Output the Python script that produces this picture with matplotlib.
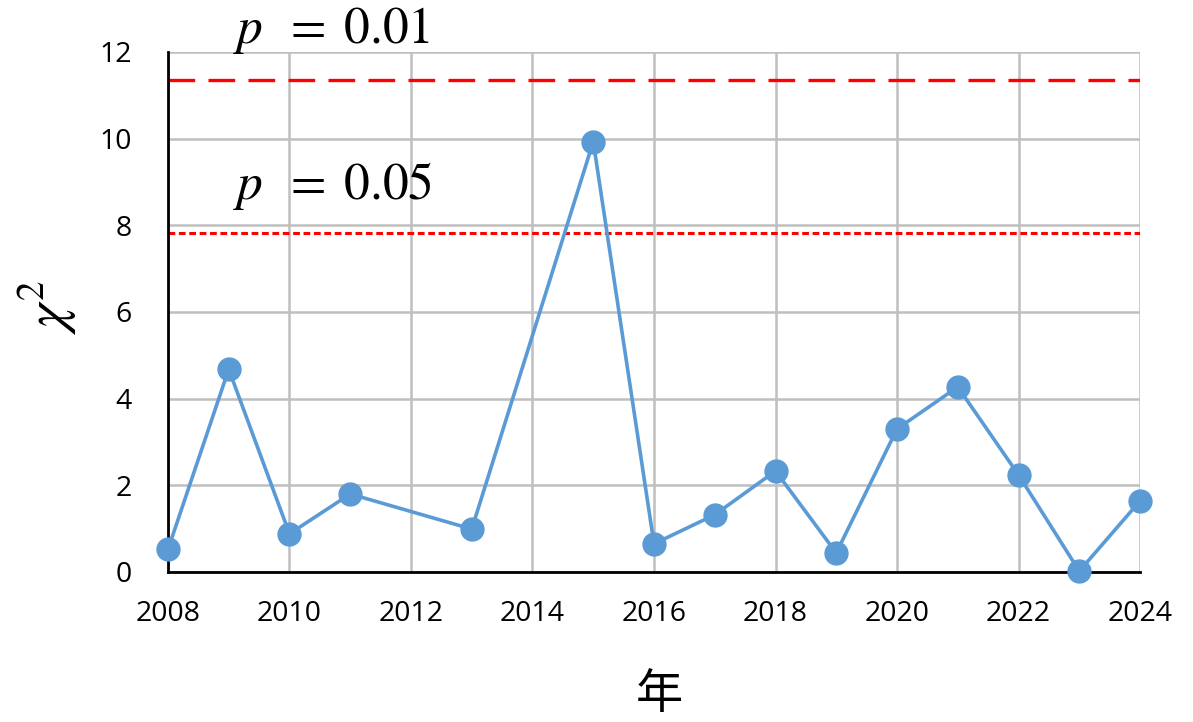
import matplotlib.pyplot as plt

# chi-square values per year (2012 and 2014 missing)
years = [2008, 2009, 2010, 2011, 2013, 2015, 2016, 2017, 2018, 2019, 2020, 2021, 2022, 2023, 2024]
chi2 = [0.52, 4.68, 0.88, 1.80, 0.99, 9.93, 0.65, 1.32, 2.33, 0.44, 3.30, 4.27, 2.24, 0.02, 1.64]

p01 = 11.345
p05 = 7.815

xticks = list(range(2008, 2025, 2))
yticks = list(range(0, 13, 2))

plt.rcParams['font.family'] = ['Open Sans', 'DejaVu Sans']
plt.rcParams['mathtext.fontset'] = 'stix'

fig = plt.figure(figsize=(11.93, 7.22), dpi=100)
ax = fig.add_axes([0.1408, 0.2078, 0.8148, 0.7202])

ax.axhline(p01, color='#ff0000', lw=2.4, dashes=(8, 4), zorder=2)
ax.axhline(p05, color='#ff0000', lw=2.2, dashes=(2.2, 1.2), zorder=2)

ax.plot(years, chi2, color='#5b9bd5', lw=2.6, marker='o', ms=16.5,
        clip_on=False, zorder=5)

ax.set_xlim(2008, 2024)
ax.set_ylim(0, 12)
ax.set_xticks(xticks)
ax.set_yticks(yticks)
ax.grid(True, color='#bfbfbf', lw=1.8)
ax.set_axisbelow(True)
ax.tick_params(length=0, labelsize=20.5, pad=20)
ax.tick_params(axis='y', pad=26)

for s in ['top', 'right']:
    ax.spines[s].set_visible(False)
for s in ['left', 'bottom']:
    ax.spines[s].set_color('black')
    ax.spines[s].set_linewidth(2)
    ax.spines[s].set_zorder(3)

ax.text(2009.07, 12.5, r'$p\;\;=\;0.01$', fontsize=37, va='center', ha='left')
ax.text(2009.07, 8.9, r'$p\;\;=\;0.05$', fontsize=37, va='center', ha='left')

# axis titles
fig.text(0.040, 0.575, r'$\chi^2$', fontsize=40, rotation=90,
         ha='center', va='center')
fig.text(0.553, 0.004, '年', fontsize=34, ha='center', va='bottom',
         family=['Noto Sans CJK SC', 'DejaVu Sans'])

fig.savefig('out.png', dpi=100)
